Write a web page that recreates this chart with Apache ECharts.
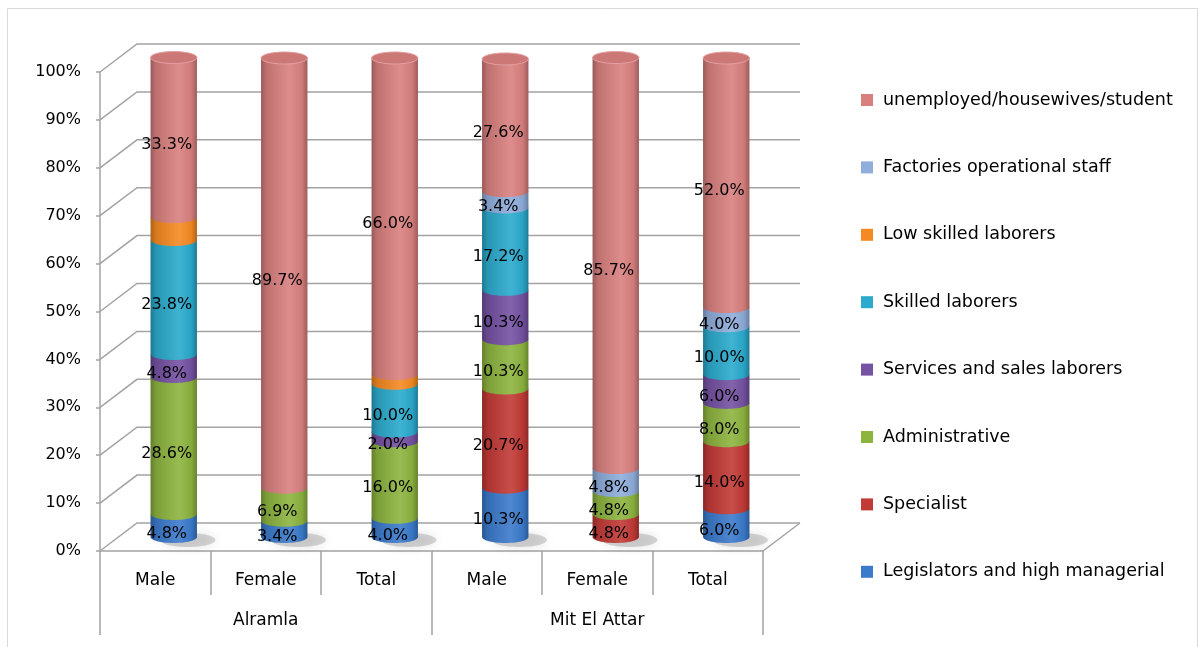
<!DOCTYPE html>
<html>
<head>
<meta charset="utf-8">
<script src="https://cdn.jsdelivr.net/npm/echarts@6/dist/echarts.min.js"></script>
<style>
  html, body { margin: 0; padding: 0; background: #ffffff; }
  #chart { width: 1200px; height: 647px; }
</style>
</head>
<body>
<div id="chart"></div>
<script>
// ---- data -------------------------------------------------------------
const categories = ['Male', 'Female', 'Total', 'Male', 'Female', 'Total'];
const regions = ['Alramla', 'Mit El Attar'];
const yTicks = [0, 10, 20, 30, 40, 50, 60, 70, 80, 90, 100];

// occupation shares (%), stacked from bottom to top
const legislators    = [4.8, 3.4, 4.0, 10.3, 0, 6.0];
const specialist     = [0, 0, 0, 20.7, 4.8, 14.0];
const administrative = [28.6, 6.9, 16.0, 10.3, 4.8, 8.0];
const services       = [4.8, 0, 2.0, 10.3, 0, 6.0];
const skilled        = [23.8, 0, 10.0, 17.2, 0, 10.0];
const lowSkilled     = [4.8, 0, 2.0, 0, 0, 0];
const factories      = [0, 0, 0, 3.4, 4.8, 4.0];
const unemployed     = [33.3, 89.7, 66.0, 27.6, 85.7, 52.0];

const seriesNames = [
  'Legislators and high managerial',
  'Specialist',
  'Administrative',
  'Services and sales laborers',
  'Skilled laborers',
  'Low skilled laborers',
  'Factories operational staff',
  'unemployed/housewives/student'
];
const seriesValues = [legislators, specialist, administrative, services, skilled, lowSkilled, factories, unemployed];
const seriesColors = ['#3B7BCC', '#C23A36', '#8DB43F', '#7552A3', '#2BAACD', '#F58A22', '#8FAEDB', '#D9807F'];
const showValueLabel = [true, true, true, true, true, false, true, true];

// ---- drawing helpers --------------------------------------------------
const FONT = '"DejaVu Sans", sans-serif';
const DEPTH_X = 37, DEPTH_Y = -28;      // depth of the 3D floor / back wall
const GRID_COLOR = '#a3a3a3';

function hexToRgb(h) {
  const n = parseInt(h.slice(1), 16);
  return [(n >> 16) & 255, (n >> 8) & 255, n & 255];
}
function shade(hex, amt) {
  const c = hexToRgb(hex);
  const t = amt >= 0 ? 255 : 0, a = Math.abs(amt);
  const r = c.map(v => Math.round(v + (t - v) * a));
  return 'rgb(' + r.join(',') + ')';
}

// cumulative starts of each stacked segment
const starts = seriesValues.map(() => categories.map(() => 0));
const running = categories.map(() => 0);
seriesValues.forEach((vals, s) => {
  vals.forEach((v, i) => { starts[s][i] = running[i]; running[i] += v; });
});
// topmost visible segment of each column
const topSeries = categories.map((_, i) => {
  let t = 0;
  seriesValues.forEach((vals, s) => { if (vals[i] > 0) t = s; });
  return t;
});

function cylinderRenderer(s) {
  const base = seriesColors[s];
  return function (params, api) {
    const i = api.value(0), v0 = api.value(1), v1 = api.value(2), v = api.value(3);
    if (!(v > 0)) return null;
    const pb = api.coord([i, v0]);
    const pt = api.coord([i, v1]);
    const band = api.size([1, 0])[0];
    const rx = band * 0.21, ry = 6;
    const cx = pb[0] + DEPTH_X / 2;
    const yb = pb[1] + DEPTH_Y / 2;
    const yt = pt[1] + DEPTH_Y / 2;
    const L = cx - rx, R = cx + rx;
    const pts = [[L, yt], [L, yb]];
    const N = 28;
    for (let k = 1; k < N; k++) {
      const a = Math.PI - Math.PI * k / N;
      pts.push([cx + rx * Math.cos(a), yb + ry * Math.sin(a)]);
    }
    pts.push([R, yb], [R, yt]);
    const children = [{
      type: 'polygon',
      z2: 10 + s,
      shape: { points: pts },
      style: {
        fill: new echarts.graphic.LinearGradient(0, 0, 1, 0, [
          { offset: 0, color: shade(base, -0.3) },
          { offset: 0.12, color: shade(base, -0.12) },
          { offset: 0.62, color: shade(base, 0.1) },
          { offset: 0.88, color: shade(base, -0.05) },
          { offset: 1, color: shade(base, -0.28) }
        ])
      }
    }];
    if (topSeries[i] === s) {
      children.push({
        type: 'ellipse',
        z2: 11 + s,
        shape: { cx: cx, cy: yt, rx: rx, ry: ry },
        style: { fill: shade(base, -0.06), stroke: shade(base, 0.25), lineWidth: 1 }
      });
    }
    if (showValueLabel[s]) {
      children.push({
        type: 'text',
        z2: 100,
        style: {
          text: v.toFixed(1) + '%',
          x: cx - 7,
          y: (yb + yt) / 2 + 8,
          align: 'center',
          verticalAlign: 'middle',
          fill: '#000000',
          fontSize: 16,
          fontFamily: FONT
        }
      });
    }
    return { type: 'group', children: children };
  };
}

// back wall gridlines with their slanted side-wall segment
function gridRenderer(params, api) {
  const v = api.value(1);
  const y = api.coord([0, v])[1];
  const cs = params.coordSys;
  const x0 = cs.x, x1 = cs.x + cs.width;
  const lineStyle = { stroke: GRID_COLOR, lineWidth: 1.5, fill: null };
  const children = [{
    type: 'polyline', z2: 0,
    shape: { points: [[x0, y], [x0 + DEPTH_X, y + DEPTH_Y], [x1 + DEPTH_X, y + DEPTH_Y]] },
    style: lineStyle
  }];
  if (v === 0) {
    children.push({
      type: 'polyline', z2: 0,
      shape: { points: [[x1, y], [x1 + DEPTH_X, y + DEPTH_Y]] },
      style: lineStyle
    });
  }
  return { type: 'group', children: children };
}

// soft shadow cast by each column on the floor
function shadowRenderer(params, api) {
  const p = api.coord([api.value(0), 0]);
  const band = api.size([1, 0])[0];
  return {
    type: 'ellipse', z2: 2,
    shape: { cx: p[0] + DEPTH_X / 2 + 14, cy: p[1] + DEPTH_Y / 2 + 3, rx: band * 0.25, ry: 7 },
    style: { fill: 'rgba(110,110,110,0.28)', shadowBlur: 12, shadowColor: 'rgba(0,0,0,0.4)' }
  };
}

const series = [
  {
    type: 'custom', name: 'grid3d', silent: true,
    renderItem: gridRenderer,
    data: yTicks.map(v => [0, v]),
    encode: { x: 0, y: 1 }
  },
  {
    type: 'custom', name: 'floorShadow', silent: true,
    renderItem: shadowRenderer,
    data: categories.map((_, i) => [i, 0]),
    encode: { x: 0, y: 1 }
  }
];
seriesNames.forEach((name, s) => {
  series.push({
    type: 'custom',
    name: name,
    itemStyle: { color: seriesColors[s] },
    renderItem: cylinderRenderer(s),
    data: seriesValues[s].map((v, i) => [i, starts[s][i], starts[s][i] + v, v]),
    encode: { x: 0, y: [1, 2] }
  });
});

const chart = echarts.init(document.getElementById('chart'), null, { renderer: 'canvas' });
chart.setOption({
  animation: false,
  backgroundColor: '#ffffff',
  textStyle: { fontFamily: FONT },
  graphic: [{
    type: 'rect', silent: true,
    shape: { x: 7.5, y: 8.5, width: 1190, height: 700 },
    style: { fill: 'none', stroke: '#d9d9d9', lineWidth: 1 }
  }],
  grid: { left: 100, right: 437, top: 72, bottom: 96 },
  xAxis: [
    {
      type: 'category', data: categories, position: 'bottom',
      axisLine: { show: true, lineStyle: { color: GRID_COLOR, width: 1.5 } },
      axisTick: { show: true, interval: 0, length: 44, lineStyle: { color: GRID_COLOR, width: 1.5 } },
      axisLabel: { interval: 0, margin: 21, color: '#000000', fontSize: 17, fontFamily: FONT },
      splitLine: { show: false }
    },
    {
      type: 'category', data: regions, position: 'bottom', offset: 0,
      axisLine: { show: false },
      axisTick: { show: true, interval: 0, length: 84, lineStyle: { color: GRID_COLOR, width: 1.5 } },
      axisLabel: { interval: 0, margin: 61, color: '#000000', fontSize: 17, fontFamily: FONT },
      splitLine: { show: false }
    }
  ],
  yAxis: {
    type: 'value', min: 0, max: 100, interval: 10,
    axisLine: { show: true, lineStyle: { color: GRID_COLOR, width: 1.5 } },
    axisTick: { show: true, length: 4, lineStyle: { color: GRID_COLOR, width: 1.5 } },
    axisLabel: { formatter: '{value}%', margin: 19, color: '#000000', fontSize: 16, fontFamily: FONT },
    splitLine: { show: false }
  },
  legend: {
    orient: 'vertical', left: 856, top: 86,
    itemWidth: 12, itemHeight: 12, itemGap: 49.4,
    icon: 'rect', selectedMode: false,
    data: seriesNames.slice().reverse(),
    textStyle: { color: '#000000', fontSize: 17.5, fontFamily: FONT, lineHeight: 18, padding: [0, 0, 0, 5] }
  },
  series: series
});
</script>
</body>
</html>
